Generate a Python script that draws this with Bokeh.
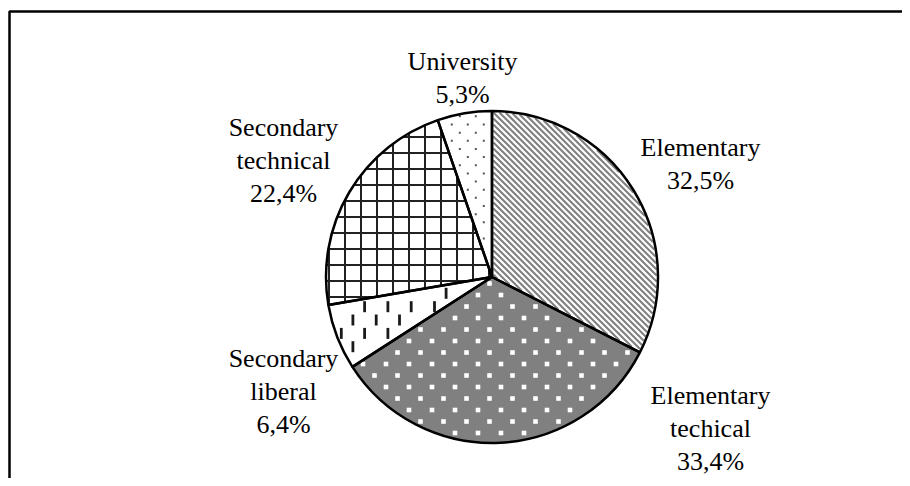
import numpy as np
from bokeh.plotting import figure
from bokeh.models import Range1d
from bokeh.core.properties import value
from bokeh.embed import file_html
from bokeh.resources import INLINE

categories = ["Elementary", "Elementary techical", "Secondary liberal", "Secondary technical", "University"]
label_lines = [["Elementary"], ["Elementary", "techical"], ["Secondary", "liberal"], ["Secondary", "technical"], ["University"]]
shares = [32.5, 33.4, 6.4, 22.4, 5.3]
share_labels = ["32,5%", "33,4%", "6,4%", "22,4%", "5,3%"]

# ---------------- layout / style ----------------
W, H = 902, 478
cx, cy, R = 491.5, 276.5, 166.0          # pie centre and radius (page pixels)
fills = ["white", "#808080", "white", "white", "white"]
label_pos = [(700, 163), (710, 428), (283, 391), (283, 160), (462, 77)]   # text block centres
line_h = 33
font_px = "26px"


def X(px):
    return px


def Y(py):
    return H - py


p = figure(width=W, height=H, x_range=Range1d(0, W), y_range=Range1d(0, H),
           output_backend="svg", toolbar_location=None, min_border=0)
p.axis.visible = False
p.grid.visible = False
p.outline_line_color = None
p.background_fill_color = "white"

frac = np.array(shares) / sum(shares)
cum = np.concatenate([[0], np.cumsum(frac)])
a_start = 2 * np.pi * cum[:-1]           # clockwise from 12 o'clock
a_end = 2 * np.pi * cum[1:]
starts = np.pi / 2 - a_start
ends = np.pi / 2 - a_end


def inside(x, y, i, m):
    """point (page px) lies inside slice i with margin m from its edges"""
    x = np.asarray(x, float)
    y = np.asarray(y, float)
    dx, du = x - cx, cy - y
    r = np.hypot(dx, du)
    th = np.mod(np.arctan2(dx, du), 2 * np.pi)
    d0 = th - a_start[i]
    d1 = a_end[i] - th
    ok = (r <= R - m) & (d0 >= 0) & (d1 >= 0)
    ok &= np.where(d0 < np.pi / 2, r * np.sin(np.clip(d0, 0, None)), r) >= m
    ok &= np.where(d1 < np.pi / 2, r * np.sin(np.clip(d1, 0, None)), r) >= m
    return ok


# 1) slice fills
for i in range(len(shares)):
    p.wedge(x=X(cx), y=Y(cy), radius=R, start_angle=starts[i], end_angle=ends[i], direction="clock",
            fill_color=fills[i], line_color=None)

# 2) pattern overlays ------------------------------------------------
# Elementary: grey diagonal stripes (down-right)
i = 0
sx0, sy0, sx1, sy1 = [], [], [], []
tt = np.arange(-2 * R, 2 * R, 0.2)
for c in np.arange(-2 * R, 2 * R, 6.0):
    xs_ = cx + c + tt
    ys_ = cy + tt
    ok = inside(xs_, ys_, i, 1.2)
    if ok.any():
        idx = np.where(ok)[0]
        sx0.append(X(xs_[idx[0]])); sy0.append(Y(ys_[idx[0]]))
        sx1.append(X(xs_[idx[-1]])); sy1.append(Y(ys_[idx[-1]]))
p.segment(x0=sx0, y0=sy0, x1=sx1, y1=sy1, line_color="#808080", line_width=2.1, line_cap="butt")

# Elementary techical: white squares, staggered
i = 1
gx, gy = np.meshgrid(np.arange(-400, 400, 23.0), np.arange(-400, 400, 23.0))
ax, ay = gx.ravel() + 406, gy.ravel() + 361
bx, by = ax + 11.5, ay + 11.5
qx = np.concatenate([ax, bx]); qy = np.concatenate([ay, by])
ok = inside(qx, qy, i, 3.0)
p.rect(x=X(qx[ok]), y=Y(qy[ok]), width=4.6, height=4.6, fill_color="white", line_color=None)

# Secondary liberal: vertical dashes, staggered
i = 2
half = 5.5
gx, gy = np.meshgrid(np.arange(-400, 400, 23.3), np.arange(-400, 400, 26.7))
ax, ay = gx.ravel() + 333, gy.ravel() + 319
bx, by = ax + 11.7, ay - 13.3
dx_ = np.concatenate([ax, bx]); dy_ = np.concatenate([ay, by])
ok = inside(dx_, dy_ - half, i, 1.5) & inside(dx_, dy_ + half, i, 1.5)
p.segment(x0=X(dx_[ok]), y0=Y(dy_[ok] - half), x1=X(dx_[ok]), y1=Y(dy_[ok] + half),
          line_color="#1a1a1a", line_width=2.8, line_cap="butt")

# Secondary technical: square grid
i = 3
p.wedge(x=X(cx), y=Y(cy), radius=R, start_angle=starts[i], end_angle=ends[i], direction="clock",
        fill_color=None, line_color=None, hatch_pattern="+", hatch_color="#222222",
        hatch_scale=16, hatch_weight=2)

# University: small grey dots, staggered
i = 4
gx, gy = np.meshgrid(np.arange(-400, 400, 16.0), np.arange(-400, 400, 16.3))
ax, ay = gx.ravel() + 467.3, gy.ravel() + 116.5
bx, by = ax + 8, ay + 8.15
ux = np.concatenate([ax, bx]); uy = np.concatenate([ay, by])
ok = inside(ux, uy, i, 2.0)
p.rect(x=X(ux[ok]), y=Y(uy[ok]), width=2.0, height=2.0, fill_color="#555555", line_color=None)

# 3) slice outlines
for i in range(len(shares)):
    p.wedge(x=X(cx), y=Y(cy), radius=R, start_angle=starts[i], end_angle=ends[i], direction="clock",
            fill_color=None, line_color="black", line_width=2.5)

# outer frame (left and top edges visible)
p.line(x=[X(9), X(9), X(W + 20)], y=[Y(H + 20), Y(11), Y(11)], line_color="black", line_width=2.5)

# labels
xs, ys, ts = [], [], []
for i in range(len(shares)):
    lines = label_lines[i] + [share_labels[i]]
    n = len(lines)
    px, py = label_pos[i]
    for j, t in enumerate(lines):
        yy = py + (j - (n - 1) / 2) * line_h
        xs.append(X(px))
        ys.append(Y(yy))
        ts.append(t)
p.text(x=xs, y=ys, text=ts, text_font=value("Liberation Serif"), text_font_size=font_px,
       text_align="center", text_baseline="middle", text_color="black")

open("out.html", "w").write(file_html(p, INLINE))
